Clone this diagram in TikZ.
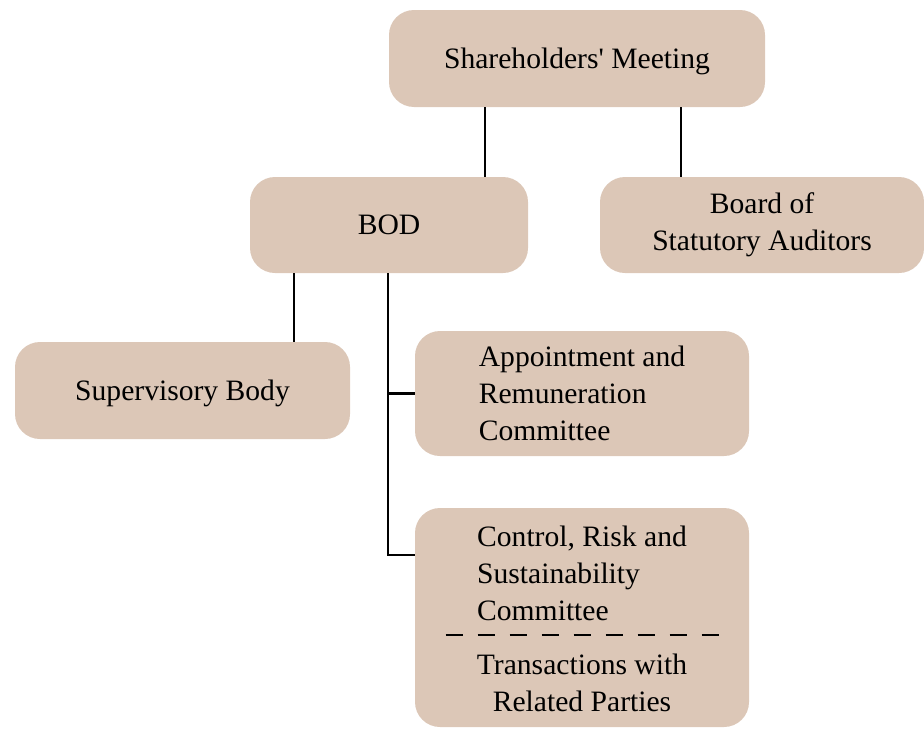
\documentclass[tikz,border=0pt]{standalone}
\usepackage{fontspec}
\setmainfont{Liberation Serif}
\newdimen\U\U=0.5pt
\definecolor{boxfill}{RGB}{220,199,183}
\tikzset{
    orgbox/.style={fill=boxfill, rounded corners=25\U, minimum height=96\U,
        inner sep=0pt, font=\fontsize{14.8}{18.5}\selectfont},
    oneline/.style={text depth=0pt},
    link/.style={line width=2.2\U},
    split/.style={line width=1.8\U, dash pattern=on 17\U off 15\U}
}
\begin{document}
\begin{tikzpicture}[x=1\U, y=-1\U]
    \useasboundingbox (0,0) rectangle (924,728);
    \node[orgbox, oneline, minimum width=376\U, minimum height=97\U] (meeting) at (577,58.5) {Shareholders\textquotesingle\ Meeting};
    \node[orgbox, oneline, minimum width=278\U] (bod) at (389,225) {BOD};
    \node[orgbox, minimum width=324\U, align=center] (auditors) at (762,225) {Board of\\Statutory Auditors};
    \node[orgbox, oneline, minimum width=335\U, minimum height=97\U] (supervisory) at (182.5,390.5) {Supervisory Body};
    \node[orgbox, minimum width=334\U, minimum height=125\U, align=left] (appointment) at (582,393.5)
        {Appointment and\\Remuneration\\Committee};
    \node[orgbox, minimum width=334\U, minimum height=219\U] (control) at (582,617.5) {};
    \node[font=\fontsize{14.8}{18.5}\selectfont, align=left, inner sep=0pt] (controltop) at (582,573)
        {Control, Risk and\\Sustainability\\Committee};
    \node[font=\fontsize{14.8}{18.5}\selectfont, align=center, inner sep=0pt] (controlbot) at (582,683)
        {Transactions with\\Related Parties};
    \draw[split] ([shift={(31,17.5)}]control.west) -- ([shift={(-30,17.5)}]control.east);

    \foreach \dx/\target in {-92/bod, 104/auditors} {
        \draw[link] ([xshift=\dx\U]meeting.south) -- ([xshift=\dx\U]meeting.south |- \target.north);
        }
    \draw[link] ([xshift=-95\U]bod.south) -- ([xshift=-95\U]bod.south |- supervisory.north);
    \draw[link] ([xshift=-1\U]bod.south) |- ([yshift=62.5\U]control.west);
    \draw[link] ([xshift=-1\U]bod.south |- appointment.west) -- (appointment.west);
\end{tikzpicture}
\end{document}
